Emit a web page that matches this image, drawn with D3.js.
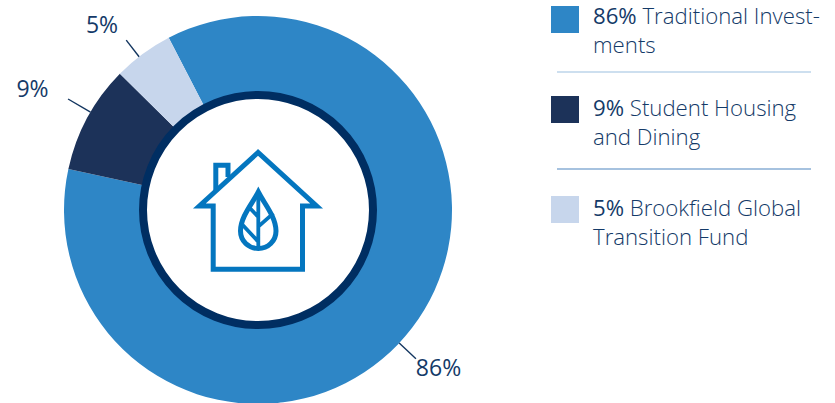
<!DOCTYPE html>
<html>
<head>
<meta charset="utf-8">
<script src="https://cdn.jsdelivr.net/npm/d3@7/dist/d3.min.js"></script>
<style>
  html, body { margin: 0; padding: 0; background: #fff; }
  svg { display: block; }
  text { font-family: "Open Sans", sans-serif; }
</style>
</head>
<body>
<svg id="chart" width="835" height="403"></svg>
<script>
// Portfolio allocation, in drawing order clockwise
const categories = ["Traditional Investments", "Student Housing and Dining", "Brookfield Global Transition Fund"];
const shares = [86, 9, 5];
const sliceColors = ["#2e86c6", "#1c3259", "#c7d6ec"];
const calloutAngles = [133.3, -59.7, -37.8];
const calloutReach = [217, 220, 215];
const legendLines = [
  ["Traditional Invest-", "ments"],
  ["Student Housing", "and Dining"],
  ["Brookfield Global", "Transition Fund"]
];

const textColor = "#143a68";
const deg = Math.PI / 180;
const svg = d3.select("#chart");
const cx = 258, cy = 210, outerR = 194, innerR = 115;

const pie = d3.pie().sort(null).startAngle(-27.4 * deg).endAngle(332.6 * deg);
const arc = d3.arc().innerRadius(innerR).outerRadius(outerR);
const donut = svg.append("g").attr("transform", `translate(${cx},${cy})`);

donut.selectAll("path.slice")
  .data(pie(shares))
  .join("path")
  .attr("class", "slice")
  .attr("d", arc)
  .attr("fill", (d, i) => sliceColors[i]);

// Dark ring around the white hub
donut.append("circle").attr("r", 115).attr("fill", "#fff").attr("stroke", "#002e62").attr("stroke-width", 8);

// Callout ticks and percent labels
const polar = (r, a) => [r * Math.sin(a * deg), -r * Math.cos(a * deg)];
shares.forEach((v, i) => {
  const a = calloutAngles[i];
  const [x1, y1] = polar(outerR, a), [x2, y2] = polar(calloutReach[i], a);
  donut.append("line").attr("x1", x1).attr("y1", y1).attr("x2", x2).attr("y2", y2)
    .attr("stroke", "#12355f").attr("stroke-width", 1.4);
});
[[438.5, 376], [32.5, 97], [102, 33]].forEach(([x, y], i) => {
  svg.append("text").attr("x", x).attr("y", y).attr("text-anchor", "middle")
    .attr("font-size", 23).attr("font-weight", 400).attr("fill", textColor).text(shares[i] + "%");
});

// House with leaf emblem
const icon = svg.append("g").attr("fill", "none").attr("stroke", "#0476bf").attr("stroke-width", 5).attr("stroke-linejoin", "miter");
icon.append("path").attr("d", "M258 152.5 L199.4 206 L213.2 206 L213.2 269.2 L302.5 269.2 L302.5 206 L316.6 206 Z");
icon.append("path").attr("d", "M215.8 190 L215.8 165.2 L228 165.2 L228 177");
icon.append("path").attr("d", "M258.3 192 C252 204 240.5 217 240.5 231 C240.5 241 248.5 248.5 258.3 248.5 C268 248.5 276 241 276 231 C276 217 264.5 204 258.3 192 Z");
icon.append("path").attr("stroke-width", 3.8).attr("d", "M258.3 192 L258.3 248 M250 208.3 L258.3 217 M242.7 225 L258.3 241.7 M258.3 226.7 L273.3 213.3");

// Legend blocks
const legendTops = [6, 96, 196];
const legendBase = [24, 116, 216];
legendTops.forEach((y, i) => {
  svg.append("rect").attr("x", 551).attr("y", y).attr("width", 28).attr("height", 27).attr("fill", sliceColors[i]);
  const t = svg.append("text").attr("x", 593).attr("y", legendBase[i]).attr("font-size", 22.2).attr("fill", textColor);
  t.append("tspan").attr("font-weight", 500).text(shares[i] + "% ");
  t.append("tspan").attr("font-weight", 300).text(legendLines[i][0]);
  svg.append("text").attr("x", 593).attr("y", legendBase[i] + 29).attr("font-size", 22.2).attr("font-weight", 300)
    .attr("fill", textColor).text(legendLines[i][1]);
});
[72, 169].forEach((y, i) => {
  svg.append("line").attr("x1", 557).attr("x2", 811).attr("y1", y).attr("y2", y)
    .attr("stroke", i ? "#4f86c0" : "#9cc0e0").attr("stroke-width", 1.2);
});
</script>
</body>
</html>
